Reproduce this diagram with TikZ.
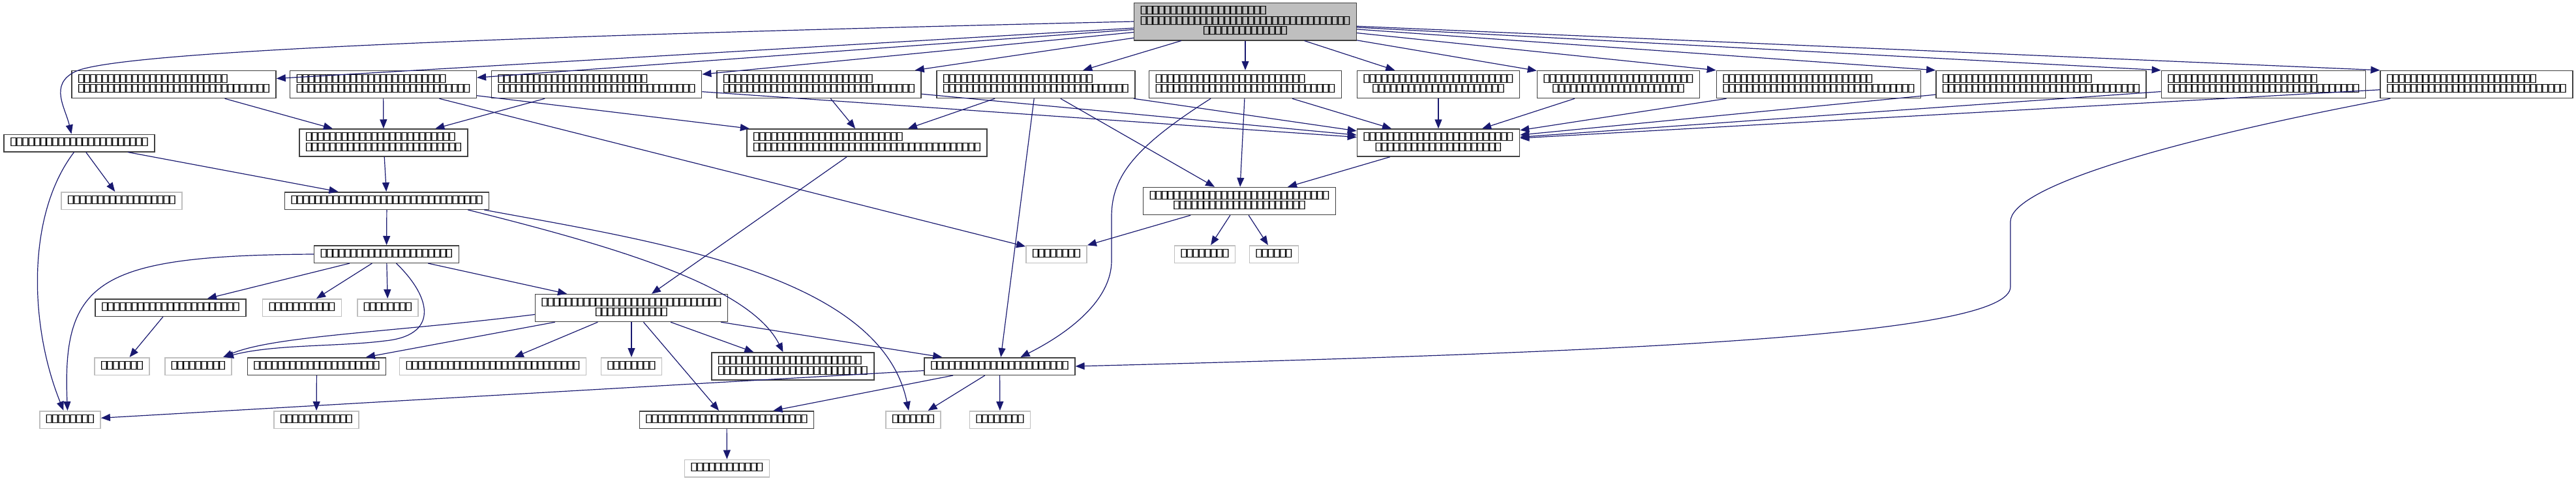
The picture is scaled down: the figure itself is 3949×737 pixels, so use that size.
\documentclass[tikz,border=0pt]{standalone}
\usepackage{graphicx}
\usepackage{fontspec}
\setmainfont{DejaVu Sans}
\usetikzlibrary{arrows.meta}
\definecolor{cedge}{HTML}{191970}
\definecolor{cline}{HTML}{404040}
\definecolor{cleaf}{HTML}{BFBFBF}
\tikzset{
  file/.style={draw=cline, fill=white, line width=1.5pt, inner xsep=10pt, inner ysep=5.5pt,
    font=\fontsize{13}{15}\selectfont},
  leaf/.style={file, draw=cleaf},
  root/.style={file, fill=cleaf},
  inc/.style={-{Triangle[length=14pt, width=11pt]}, draw=cedge, line width=1.2pt},
}
% the labels print as glyph boxes: \tofu{n} gives n of them
\newcommand{\tofu}[1]{\foreach \k in {1,...,#1}{\makebox[9.16pt]{\resizebox{13.4pt}{11pt}{▯}}}}
\newcommand{\lbone}[1]{\begin{tabular}{@{}c@{}}\tofu{#1}\end{tabular}}
\newcommand{\lbtwo}[2]{\begin{tabular}{@{}l@{}}\tofu{#1}\\\multicolumn{1}{@{}c@{}}{\tofu{#2}}\end{tabular}}
\newcommand{\lbthree}[3]{\begin{tabular}{@{}l@{}}\tofu{#1}\\\tofu{#2}\\\multicolumn{1}{@{}c@{}}{\tofu{#3}}\end{tabular}}

\begin{document}
\begin{tikzpicture}[x=1pt, y=-1pt]
  \useasboundingbox (0,0) rectangle (3949,737);
  \node[root] (src) at (1909,33) {\lbthree{21}{35}{14}};
  % headers included directly
  \node[file] (ra) at (266.5,129.5) {\lbtwo{25}{32}};
  \node[file] (rb) at (587.5,129.5) {\lbtwo{25}{29}};
  \node[file] (rc) at (914.5,129.5) {\lbtwo{25}{33}};
  \node[file] (rd) at (1255.5,129.5) {\lbtwo{25}{32}};
  \node[file] (re) at (1588,129.5) {\lbtwo{25}{31}};
  \node[file] (rf) at (1909,129.5) {\lbtwo{25}{30}};
  \node[file] (rg) at (2205,129.5) {\lbtwo{25}{22}};
  \node[file] (rh) at (2481,129.5) {\lbtwo{25}{22}};
  \node[file] (ri) at (2788,129.5) {\lbtwo{25}{32}};
  \node[file] (rj) at (3129,129.5) {\lbtwo{25}{33}};
  \node[file] (rk) at (3470,129.5) {\lbtwo{25}{32}};
  \node[file] (rl) at (3796.5,129.5) {\lbtwo{25}{30}};
  \node[file] (l1) at (121.5,219.5) {\lbone{23}};
  \node[file] (m1) at (588,219) {\lbtwo{25}{26}};
  \node[file] (m2) at (1329,219) {\lbtwo{25}{38}};
  \node[file] (m3) at (2205,219) {\lbtwo{25}{21}};
  \node[leaf] (l2) at (186.5,308) {\lbone{18}};
  \node[file] (n1) at (593,308) {\lbone{32}};
  \node[file] (n2) at (1900,308.5) {\lbtwo{30}{22}};
  \node[file] (k) at (592.5,390) {\lbone{22}};
  \node[leaf] (p1) at (1619.5,390) {\lbone{8}};
  \node[leaf] (p2) at (1847,390) {\lbone{8}};
  \node[leaf] (p3) at (1953,390) {\lbone{6}};
  \node[file] (q1) at (261.5,472) {\lbone{23}};
  \node[leaf] (q2) at (463,472) {\lbone{11}};
  \node[leaf] (q3) at (594.5,472) {\lbone{8}};
  \node[file] (q4) at (968,472.5) {\lbtwo{30}{12}};
  \node[leaf] (s1) at (187,562) {\lbone{7}};
  \node[leaf] (s2) at (304,562) {\lbone{9}};
  \node[file] (s3) at (485.5,562) {\lbone{21}};
  \node[leaf] (s4) at (755.5,562) {\lbone{29}};
  \node[leaf] (s5) at (968,562) {\lbone{8}};
  \node[file] (s6) at (1215.5,562) {\lbtwo{24}{25}};
  \node[file] (s7) at (1532.5,562) {\lbone{23}};
  \node[leaf] (t1) at (107.5,644) {\lbone{8}};
  \node[leaf] (t2) at (485,644) {\lbone{12}};
  \node[file] (t3) at (1114,644) {\lbone{27}};
  \node[leaf] (t4) at (1400,644) {\lbone{7}};
  \node[leaf] (t5) at (1533,644) {\lbone{8}};
  \node[leaf] (u1) at (1114.5,718.5) {\lbone{12}};

  \foreach \h in {ra,rb,rc,rd,re,rf,rg,rh} \draw[inc] (src) -- (\h);
  \foreach \h in {ri,rj,rk,rl} \draw[inc] (src) -- (\h.north west);
  \foreach \h in {rc,rd,re,rf,rg,rh,ri,rj,rk,rl} \draw[inc] (\h) -- (m3);
  \foreach \a/\b in {ra/m1, rb/m1, rc/m1, rb/m2, rd/m2, re/m2, rb/p1, re/n2, re/s7, rf/n2,
      l1/l2, l1/n1, m1/n1, m2/q4, m3/n2, n1/k, n2/p1, n2/p2, n2/p3,
      k/q1, k/q2, k/q3, k/q4, q1/s1, q4/s3, q4/s4, q4/s5, q4/t3, q4/s6, q4/s7,
      s3/t2, s7/t1, s7/t3, s7/t4, s7/t5, t3/u1}
    \draw[inc] (\a) -- (\b);

  % curved ones
  \draw[inc] (src.west) .. controls (800,55) and (180,78) .. (115,110)
    .. controls (75,130) and (100,165) .. ([xshift=-12pt]l1.north);
  \draw[inc] ([xshift=-8pt]l1.south) .. controls (40,330) and (45,500) .. ([xshift=-10pt]t1.north);
  \draw[inc] (k.west) .. controls (150,392) and (95,430) .. ([xshift=-4pt]t1.north);
  \draw[inc] ([xshift=15pt]k.south) .. controls (665,460) and (670,515) .. (590,523)
    .. controls (520,532) and (420,528) .. ([xshift=-12pt]s2.north east);
  \draw[inc] ([yshift=-10pt]q4.west) .. controls (600,510) and (420,515) .. ([xshift=-14pt]s2.north east);
  \draw[inc] ([xshift=-33pt]n1.south east) .. controls (950,380) and (1150,440) .. ([xshift=-15pt]s6.north);
  \draw[inc] ([xshift=-8pt]n1.south east) .. controls (1000,370) and (1350,420) .. ([xshift=-7pt]t4.north);
  \draw[inc] ([xshift=-53pt]rf.south) .. controls (1740,225) and (1705,270) .. (1704,330) -- (1704,400)
    .. controls (1704,460) and (1640,510) .. ([xshift=32pt]s7.north);
  \draw[inc] ([xshift=16pt]rl.south west) .. controls (3300,220) and (3082,290) .. (3082,340) -- (3082,440)
    .. controls (3082,515) and (2500,540) .. (s7.east);
\end{tikzpicture}
\end{document}
